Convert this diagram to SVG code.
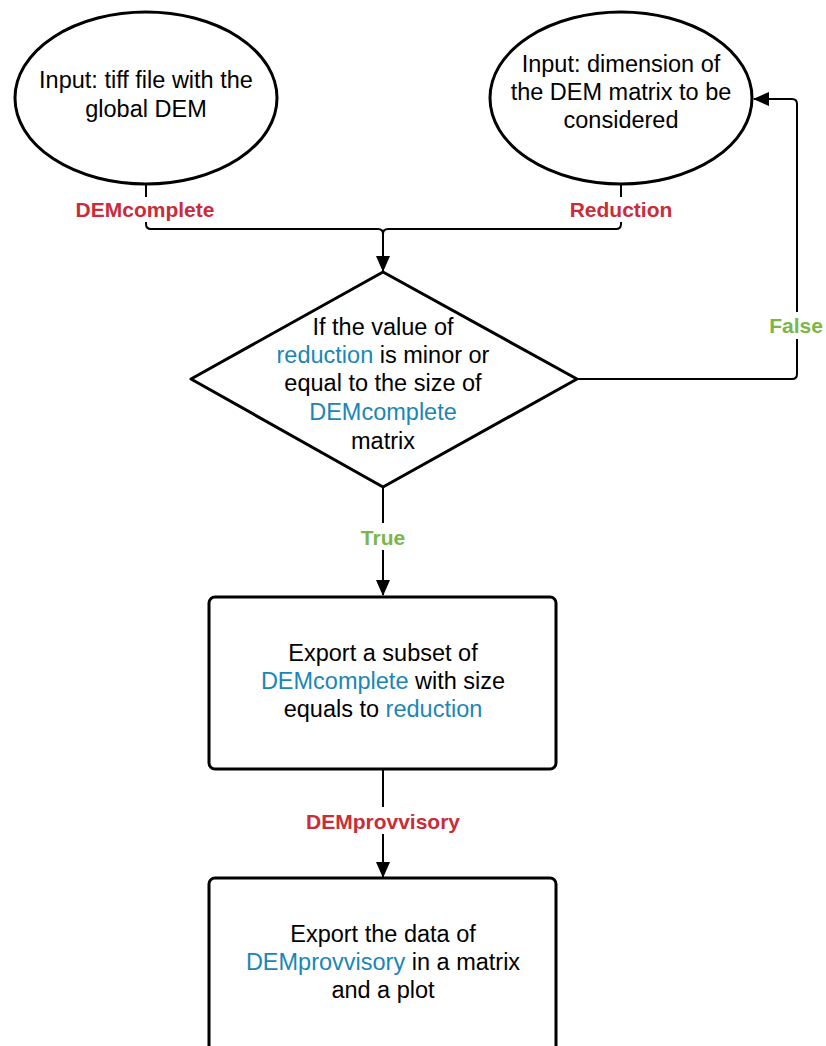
<svg xmlns="http://www.w3.org/2000/svg" width="826" height="1046" viewBox="0 0 826 1046">
<defs>
<marker id="arr" markerUnits="userSpaceOnUse" markerWidth="16" markerHeight="14" refX="15" refY="7" orient="auto">
<path d="M0,0 L16,7 L0,14 Z" fill="#000"/>
</marker>
<style>
.node{fill:#fff;stroke:#000;stroke-width:3}
.conn{fill:none;stroke:#000;stroke-width:2}
.t{font-family:"Liberation Sans",Arial,sans-serif;font-size:23.5px;fill:#000;text-anchor:middle}
.b{fill:#1b86b5}
.lbl{font-family:"Liberation Sans",Arial,sans-serif;font-size:21px;font-weight:bold;text-anchor:middle}
.red{fill:#c92d39}
.green{fill:#7ab648}
.bg{fill:#fff}
</style>
</defs>
<rect width="826" height="1046" fill="#fff"/>
<g id="connectors">
<path class="conn" d="M146,184 L146,224 Q146,229 151,229 L378,229 Q383,229 383,234 L383,271" marker-end="url(#arr)"/>
<path class="conn" d="M621,184 L621,224 Q621,229 616,229 L388,229 Q383,229 383,234"/>
<path class="conn" d="M577,379 L792,379 Q797,379 797,374 L797,104 Q797,99 792,99 L754,99" marker-end="url(#arr)"/>
<path class="conn" d="M383,487 L383,595" marker-end="url(#arr)"/>
<path class="conn" d="M383,769 L383,877" marker-end="url(#arr)"/>
<g id="label-demcomplete"><rect class="bg" x="68" y="197" width="156" height="25"/><text class="lbl red" x="145" y="217">DEMcomplete</text></g>
<g id="label-reduction"><rect class="bg" x="563" y="197" width="116" height="25"/><text class="lbl red" x="621" y="217">Reduction</text></g>
<g id="label-false"><rect class="bg" x="765" y="312" width="61" height="27"/><text class="lbl green" x="796" y="333">False</text></g>
<g id="label-true"><rect class="bg" x="353" y="523" width="60" height="27"/><text class="lbl green" x="383" y="545">True</text></g>
<g id="label-demprovvisory"><rect class="bg" x="296" y="807" width="174" height="27"/><text class="lbl red" x="383" y="829">DEMprovvisory</text></g>
</g>
<g id="input-tiff">
<ellipse class="node" cx="146" cy="98" rx="131" ry="86"/>
<text class="t" x="146" y="88">Input: tiff file with the</text>
<text class="t" x="146" y="117">global DEM</text>
</g>
<g id="input-dimension">
<ellipse class="node" cx="621" cy="98" rx="131" ry="86"/>
<text class="t" x="621" y="72">Input: dimension of</text>
<text class="t" x="621" y="100">the DEM matrix to be</text>
<text class="t" x="621" y="128">considered</text>
</g>
<g id="decision">
<path class="node" d="M383,272 L577,379 L383,487 L191,379 Z" stroke-linejoin="round"/>
<text class="t" x="383" y="335">If the value of</text>
<text class="t" x="383" y="363"><tspan class="b">reduction</tspan> is minor or</text>
<text class="t" x="383" y="391">equal to the size of</text>
<text class="t" x="383" y="420"><tspan class="b">DEMcomplete</tspan></text>
<text class="t" x="383" y="449">matrix</text>
</g>
<g id="export-subset">
<rect class="node" x="209" y="597" width="347" height="172" rx="6"/>
<text class="t" x="383" y="661">Export a subset of</text>
<text class="t" x="383" y="689"><tspan class="b">DEMcomplete</tspan> with size</text>
<text class="t" x="383" y="717">equals to <tspan class="b">reduction</tspan></text>
</g>
<g id="export-data">
<rect class="node" x="209" y="878" width="347" height="190" rx="6"/>
<text class="t" x="383" y="942">Export the data of</text>
<text class="t" x="383" y="970"><tspan class="b">DEMprovvisory</tspan> in a matrix</text>
<text class="t" x="383" y="998">and a plot</text>
</g>
</svg>
